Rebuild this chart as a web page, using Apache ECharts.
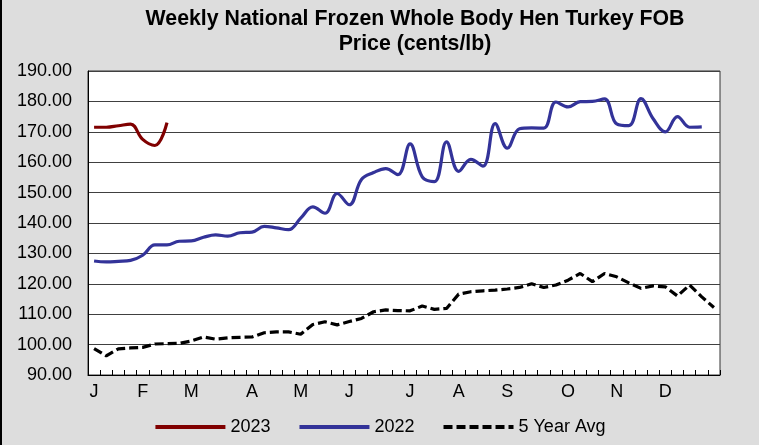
<!DOCTYPE html>
<html>
<head>
<meta charset="utf-8">
<script src="https://cdn.jsdelivr.net/npm/echarts@6/dist/echarts.min.js"></script>
<style>
  html, body { margin: 0; padding: 0; background: #dddddd; }
  #chart { width: 759px; height: 445px; }
</style>
</head>
<body>
<div id="chart"></div>
<script>
// 52 weekly slots across the year; only month starts carry a label
const weeks = Array.from({ length: 52 }, (_, i) => 'W' + (i + 1));
const monthLabels = { 0: 'J', 4: 'F', 8: 'M', 13: 'A', 17: 'M', 21: 'J', 26: 'J', 30: 'A', 34: 'S', 39: 'O', 43: 'N', 47: 'D' };

// Prices in cents/lb
const price2023 = [171.5, 171.5, 172.0, 172.5, 167.5, 165.5, 173.0];

const price2022 = [
  127.5, 127.2, 127.4, 127.7, 129.4, 132.8, 132.8, 134.0, 134.1, 135.3,
  136.1, 135.7, 136.8, 137.0, 138.9, 138.4, 137.8, 141.6, 145.3, 143.2,
  149.7, 146.0, 154.3, 156.6, 157.9, 155.9, 166.0, 155.2, 153.6, 166.7,
  157.0, 160.9, 158.7, 172.7, 164.6, 171.0, 171.3, 171.2, 179.8, 178.2,
  179.9, 180.0, 180.8, 172.6, 172.0, 180.9, 174.3, 170.0, 175.0, 171.5,
  171.6
];

const fiveYearAvg = [
  98.7, 96.3, 98.6, 98.9, 99.1, 100.2, 100.3, 100.4, 101.2, 102.5,
  101.8, 102.2, 102.4, 102.5, 103.9, 104.2, 104.2, 103.4, 106.6, 107.5,
  106.5, 107.6, 108.6, 110.8, 111.4, 111.2, 111.1, 112.7, 111.6, 111.9,
  116.6, 117.4, 117.7, 117.9, 118.3, 118.8, 120.0, 118.8, 119.6, 121.2,
  123.4, 120.7, 123.4, 122.3, 120.3, 118.5, 119.3, 119.0, 116.0, 119.6,
  115.7, 112.2
];

const yTicks = { min: 90, max: 190, step: 10 };

const FONT = '"Liberation Sans", Arial, sans-serif';

const chart = echarts.init(document.getElementById('chart'), null, { renderer: 'canvas' });

chart.setOption({
  backgroundColor: '#dddddd',
  animation: false,
  title: {
    text: 'Weekly National Frozen Whole Body Hen Turkey FOB\nPrice (cents/lb)',
    left: 415,
    top: 7,
    padding: 0,
    textAlign: 'center',
    textStyle: {
      fontFamily: FONT,
      fontWeight: 'bold',
      fontSize: 21.3,
      lineHeight: 25,
      color: '#000'
    }
  },
  graphic: [
    { type: 'rect', shape: { x: 0, y: 0, width: 2, height: 445 }, style: { fill: '#000' }, silent: true }
  ],
  legend: {
    left: 'center',
    top: 418,
    padding: 0,
    itemWidth: 70,
    itemHeight: 14,
    itemGap: 27,
    itemStyle: { opacity: 0 },
    lineStyle: { width: 4 },
    textStyle: { fontFamily: FONT, fontSize: 18, color: '#000' },
    data: ['2023', '2022', '5 Year Avg']
  },
  grid: {
    left: 88,
    top: 71,
    width: 632,
    height: 304,
    show: true,
    backgroundColor: '#ffffff',
    borderColor: '#333333',
    borderWidth: 1
  },
  xAxis: {
    type: 'category',
    data: weeks,
    boundaryGap: true,
    axisLine: { show: true, lineStyle: { color: '#000', width: 1 } },
    axisTick: { show: true, inside: true, length: 5, interval: 0, lineStyle: { color: '#000' } },
    axisLabel: {
      interval: 0,
      margin: 8,
      fontFamily: FONT,
      fontSize: 18,
      color: '#000',
      formatter: (v, i) => monthLabels[i] || ''
    },
    splitLine: { show: false }
  },
  yAxis: {
    type: 'value',
    min: yTicks.min,
    max: yTicks.max,
    interval: yTicks.step,
    axisLine: { show: true, lineStyle: { color: '#000', width: 1 } },
    axisTick: { show: false },
    axisLabel: {
      margin: 16,
      fontFamily: FONT,
      fontSize: 18,
      color: '#000',
      formatter: v => v.toFixed(2)
    },
    splitLine: { show: true, lineStyle: { color: '#404040', width: 1 } }
  },
  series: [
    {
      name: '2023',
      type: 'line',
      data: price2023,
      smooth: 0.4,
      smoothConstraint: false,
      symbol: 'none',
      lineStyle: { color: '#800000', width: 3.2 },
      itemStyle: { color: '#800000' },
      z: 4
    },
    {
      name: '2022',
      type: 'line',
      data: price2022,
      smooth: 0.4,
      smoothConstraint: false,
      symbol: 'none',
      lineStyle: { color: '#333399', width: 3.2 },
      itemStyle: { color: '#333399' },
      z: 3
    },
    {
      name: '5 Year Avg',
      type: 'line',
      data: fiveYearAvg,
      smooth: false,
      symbol: 'none',
      lineStyle: { color: '#000000', width: 3.2, type: [9, 4] },
      itemStyle: { color: '#000000' },
      z: 2
    }
  ]
});
</script>
</body>
</html>
